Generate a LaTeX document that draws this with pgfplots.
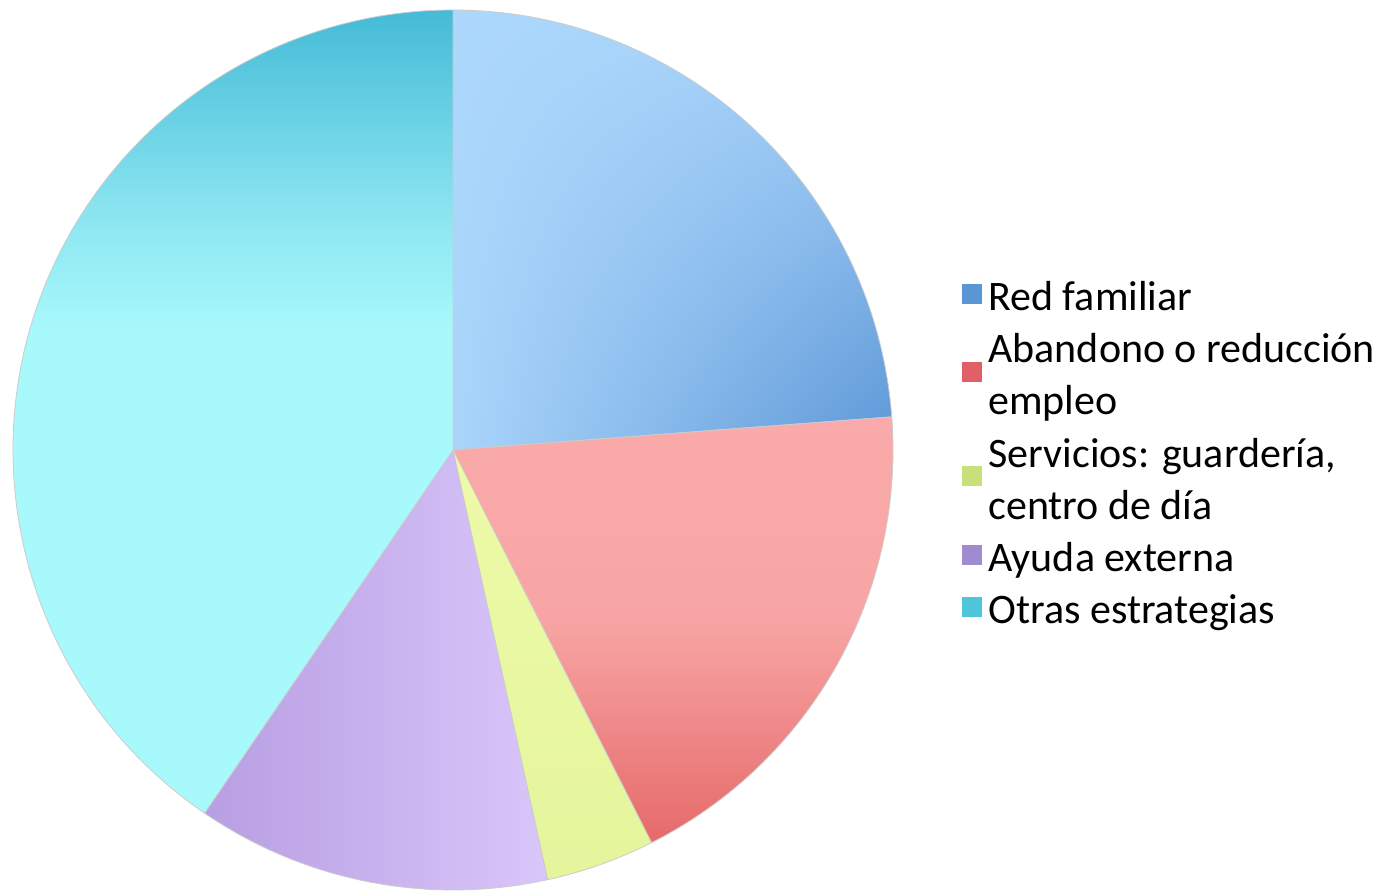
\documentclass[border=0pt]{standalone}
\usepackage{pgfplots}
\pgfplotsset{compat=1.18}
\usepackage{pgfplotstable}
\usetikzlibrary{shadings}
\usepackage{fontspec}
\setmainfont{Carlito}

\definecolor{legBlue}{HTML}{5A96D6}
\definecolor{legRed}{HTML}{E05F68}
\definecolor{legGreen}{HTML}{C8E07A}
\definecolor{legPurple}{HTML}{A08AD2}
\definecolor{legCyan}{HTML}{4FC5D9}

\definecolor{bUL}{HTML}{ADD8FC}
\definecolor{bUR}{HTML}{A8D3FA}
\definecolor{bLL}{HTML}{AAD5FB}
\definecolor{bLR}{HTML}{5C97D7}
\definecolor{rTop}{HTML}{FAAAAA}
\definecolor{rMid}{HTML}{F8A4A4}
\definecolor{rBot}{HTML}{E66A6A}
\definecolor{gTop}{HTML}{EEFAA8}
\definecolor{gBot}{HTML}{E4F59C}
\definecolor{pLeft}{HTML}{B89EE3}
\definecolor{pMid}{HTML}{D6C3F8}
\definecolor{pRight}{HTML}{D9C6FA}
\definecolor{cTop}{HTML}{45BBD7}
\definecolor{cMid}{HTML}{8CE6F1}
\definecolor{cBot}{HTML}{A8F9FB}

\pgfdeclareverticalshading{otrasShade}{100bp}{color(0bp)=(cBot); color(55bp)=(cBot); color(62bp)=(cMid); color(75bp)=(cTop); color(100bp)=(cTop)}
\pgfdeclareverticalshading{abandShade}{100bp}{color(0bp)=(rBot); color(25bp)=(rBot); color(51bp)=(rMid); color(75bp)=(rTop); color(100bp)=(rTop)}

\newcommand\ls{\rule[-7.8pt]{0pt}{26pt}}

\pgfplotstableread{
label value
Red 23.8
Aband 18.75
Serv 4.0
Ayuda 13.0
Otras 40.45
}\piedata

\begin{document}
\begin{tikzpicture}
\pgfplotstablegetelem{0}{value}\of\piedata \pgfmathsetmacro\aA{90-3.6*\pgfplotsretval}
\pgfplotstablegetelem{1}{value}\of\piedata \pgfmathsetmacro\aB{\aA-3.6*\pgfplotsretval}
\pgfplotstablegetelem{2}{value}\of\piedata \pgfmathsetmacro\aC{\aB-3.6*\pgfplotsretval}
\pgfplotstablegetelem{3}{value}\of\piedata \pgfmathsetmacro\aD{\aC-3.6*\pgfplotsretval}
\pgfplotstablegetelem{4}{value}\of\piedata \pgfmathsetmacro\aE{\aD-3.6*\pgfplotsretval}
\begin{axis}[
  x=220pt, y=220pt,
  xmin=-1.02955, xmax=2.11364, ymin=-1, ymax=1.02273,
  hide axis, clip=false,
  sq legend/.style={legend image code/.code={\fill[##1, draw=none] (0pt,-5pt) rectangle (10pt,5pt);}},
  legend style={draw=none, fill=none, inner sep=0pt,
    at={(axis description cs:0.6956,0.494)}, anchor=west,
    font=\fontsize{21}{26}\selectfont,
    cells={align=left}, nodes={inner sep=0pt}, column sep=3pt, row sep=6.5pt},
  legend cell align=left,
]
\path (rel axis cs:0,0) rectangle (rel axis cs:1,1);
\tikzset{slice/.style={draw=black!20, line width=0.4pt, overlay}}
% Red familiar
\shadedraw[slice, upper left=bUL, upper right=bUR, lower left=bLL, lower right=bLR]
  (axis cs:0,0) -- (axis cs:0,1) arc[start angle=90, end angle=\aA, radius=220pt] -- cycle;
% Abandono o reduccion empleo
\shadedraw[slice, shading=abandShade]
  (axis cs:0,0) -- (axis cs:{cos(\aA)},{sin(\aA)}) arc[start angle=\aA, end angle=\aB, radius=220pt] -- cycle;
% Servicios
\shadedraw[slice, top color=gTop, bottom color=gBot]
  (axis cs:0,0) -- (axis cs:{cos(\aB)},{sin(\aB)}) arc[start angle=\aB, end angle=\aC, radius=220pt] -- cycle;
% Ayuda externa
\shadedraw[slice, left color=pLeft, middle color=pMid, right color=pRight]
  (axis cs:0,0) -- (axis cs:{cos(\aC)},{sin(\aC)}) arc[start angle=\aC, end angle=\aD, radius=220pt] -- cycle;
% Otras estrategias
\shadedraw[slice, shading=otrasShade]
  (axis cs:0,0) -- (axis cs:{cos(\aD)},{sin(\aD)}) arc[start angle=\aD, end angle=\aE, radius=220pt] -- cycle;

\addlegendimage{sq legend, fill=legBlue}
\addlegendentry{\ls Red familiar}
\addlegendimage{sq legend, fill=legRed}
\addlegendentry{\ls Abandono o reducción\\\ls empleo}
\addlegendimage{sq legend, fill=legGreen}
\addlegendentry{\ls Servicios: guardería,\\\ls centro de día}
\addlegendimage{sq legend, fill=legPurple}
\addlegendentry{\ls Ayuda externa}
\addlegendimage{sq legend, fill=legCyan}
\addlegendentry{\ls Otras estrategias}
\end{axis}
\end{tikzpicture}
\end{document}
